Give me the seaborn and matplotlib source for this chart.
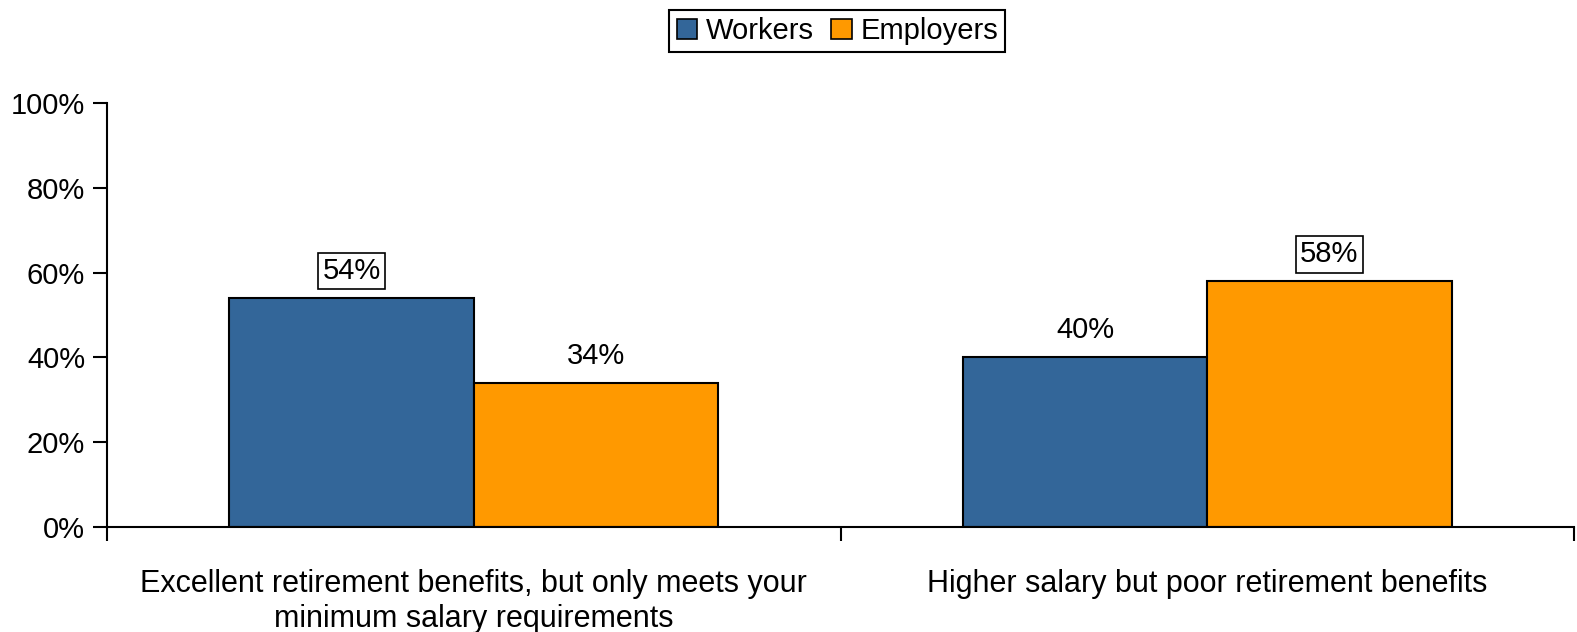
import matplotlib
matplotlib.use("Agg")
import matplotlib.pyplot as plt
import seaborn as sns
import pandas as pd
from matplotlib.ticker import FixedLocator, PercentFormatter

categories = [
    "Excellent retirement benefits, but only meets your\nminimum salary requirements",
    "Higher salary but poor retirement benefits",
]
series = ["Workers", "Employers"]
workers = [54, 40]
employers = [34, 58]
yticks = [0, 20, 40, 60, 80, 100]

df = pd.DataFrame({
    "category": categories * 2,
    "group": [series[0]] * 2 + [series[1]] * 2,
    "value": workers + employers,
})

sns.set_style("white")
plt.rcParams["font.family"] = ["Liberation Sans", "DejaVu Sans"]
plt.rcParams["text.color"] = "black"
plt.rcParams["xtick.color"] = "black"
plt.rcParams["ytick.color"] = "black"

fig = plt.figure(figsize=(15.77, 6.32), dpi=100)
ax = fig.add_axes([0.068, 0.166, 0.93, 0.671])

palette = {"Workers": "#336699", "Employers": "#FF9900"}
sns.barplot(data=df, x="category", y="value", hue="group", order=categories,
            hue_order=series, palette=palette, width=2 / 3, saturation=1,
            edgecolor="black", linewidth=1.5, ax=ax, legend=False)

ax.set_xlim(-0.5, len(categories) - 0.5)
ax.set_ylim(0, 100)
ax.set_xlabel("")
ax.set_ylabel("")

for side in ("top", "right"):
    ax.spines[side].set_visible(False)
for side in ("left", "bottom"):
    ax.spines[side].set_linewidth(1.5)
    ax.spines[side].set_color("black")

ax.yaxis.set_major_locator(FixedLocator(yticks))
ax.yaxis.set_major_formatter(PercentFormatter(decimals=0))
ax.tick_params(axis="y", direction="out", length=10, width=1.5, labelsize=21,
               pad=6, left=True, colors="black")

# Category boundaries carry the tick marks; labels sit at the group centres
ax.set_xticks([i - 0.5 for i in range(len(categories) + 1)])
ax.set_xticklabels([])
ax.set_xticks(range(len(categories)), minor=True)
ax.set_xticklabels(categories, minor=True, fontsize=22, linespacing=1.22)
ax.tick_params(axis="x", which="major", direction="out", length=10, width=1.5,
               bottom=True, colors="black")
ax.tick_params(axis="x", which="minor", length=0, pad=30, colors="black")

# Value labels; the larger value of each pair gets a box
for i, cat in enumerate(categories):
    top = max(workers[i], employers[i])
    for container, vals in zip(ax.containers, [workers, employers]):
        bar, v = container[i], vals[i]
        boxed = v == top
        ax.annotate(f"{v}%", (bar.get_x() + bar.get_width() / 2, v),
                    xytext=(0, 27), textcoords="offset pixels",
                    ha="center", va="center", fontsize=21, color="black",
                    bbox=dict(boxstyle="square,pad=0.15", fc="white", ec="black", lw=1.2)
                    if boxed else None)

handles = [plt.Rectangle((0, 0), 1, 1, fc=palette[s], ec="black", lw=1.2) for s in series]
leg = fig.legend(handles, series, loc="center", bbox_to_anchor=(0.531, 0.951), ncol=2,
                 fontsize=21, frameon=True, fancybox=False, edgecolor="black",
                 handlelength=0.7, handleheight=0.7, handletextpad=0.3, columnspacing=0.6,
                 borderpad=0.25, framealpha=1)
leg.get_frame().set_linewidth(1.5)

fig.savefig("out.png", dpi=100)
